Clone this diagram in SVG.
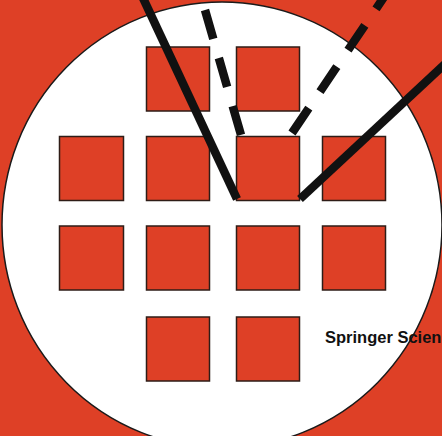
<svg xmlns="http://www.w3.org/2000/svg" width="442" height="436" viewBox="0 0 442 436">
<style>
.sq{fill:#de4026;stroke:#2e1c17;stroke-width:1.5}
.ln{stroke:#111;stroke-width:8.5;fill:none;stroke-linecap:butt}
.dash{stroke-dasharray:30 20}
.lbl{font-family:"Liberation Sans",Arial,sans-serif;font-weight:bold;font-size:16.5px;fill:#111}
</style>
<rect x="0" y="0" width="442" height="436" fill="#de4026"/>
<ellipse id="dish" cx="222" cy="225" rx="220" ry="223" fill="#fff" stroke="#1a1a1a" stroke-width="1.5"/>
<g id="squares">
<rect id="s1" class="sq" x="146.5" y="47" width="63" height="64"/>
<rect id="s2" class="sq" x="236.5" y="47" width="63" height="64"/>
<rect id="s3" class="sq" x="59.5" y="136.5" width="64" height="64"/>
<rect id="s4" class="sq" x="146.5" y="136.5" width="63" height="64"/>
<rect id="s5" class="sq" x="236.5" y="136.5" width="63" height="64"/>
<rect id="s6" class="sq" x="322.5" y="136.5" width="63" height="64"/>
<rect id="s7" class="sq" x="59.5" y="226" width="64" height="64"/>
<rect id="s8" class="sq" x="146.5" y="226" width="63" height="64"/>
<rect id="s9" class="sq" x="236.5" y="226" width="63" height="64"/>
<rect id="s10" class="sq" x="322.5" y="226" width="63" height="64"/>
<rect id="s11" class="sq" x="146.5" y="317" width="63" height="64"/>
<rect id="s12" class="sq" x="236.5" y="317" width="63" height="64"/>
</g>
<g id="connectors">
<line class="ln" x1="143" y1="-2" x2="237" y2="199"/>
<line class="ln" x1="300" y1="199" x2="446" y2="63"/>
<line class="ln dash" x1="205" y1="10" x2="241" y2="135"/>
<line class="ln dash" x1="292" y1="133" x2="384" y2="-3"/>
</g>
<text class="lbl" x="325" y="343">Springer Scien</text>
</svg>
